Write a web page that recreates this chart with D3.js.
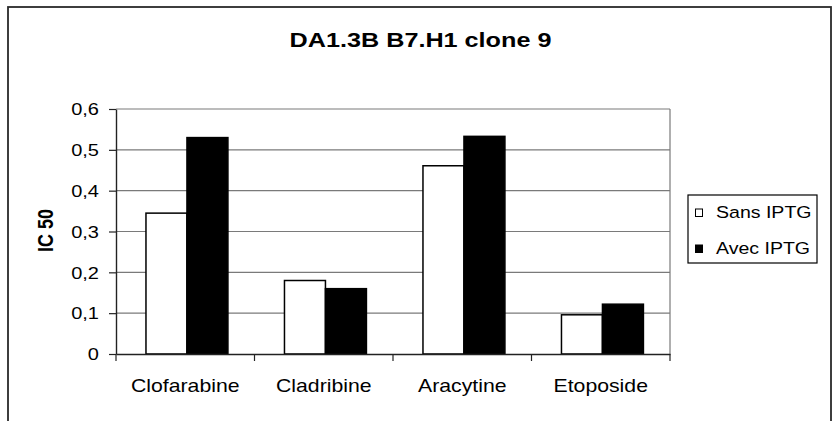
<!DOCTYPE html>
<html>
<head>
<meta charset="utf-8">
<script src="https://cdn.jsdelivr.net/npm/d3@7"></script>
<style>
  html, body { margin: 0; padding: 0; background: #fff; }
  svg { display: block; font-family: "Liberation Sans", Arial, sans-serif; }
</style>
</head>
<body>
<svg id="chart" width="833" height="421"></svg>
<script>
const title = "DA1.3B B7.H1 clone 9";
const yTitle = "IC 50";
const categories = ["Clofarabine", "Cladribine", "Aracytine", "Etoposide"];
const seriesNames = ["Sans IPTG", "Avec IPTG"];
const sansIPTG = [0.345, 0.180, 0.461, 0.096];
const avecIPTG = [0.530, 0.160, 0.533, 0.122];
const yTicks = [0, 0.1, 0.2, 0.3, 0.4, 0.5, 0.6];
const yTickLabels = ["0", "0,1", "0,2", "0,3", "0,4", "0,5", "0,6"];
const seriesFill = ["#ffffff", "#000000"];

const values = [sansIPTG, avecIPTG];
const svg = d3.select("#chart");

// outer chart frame (cropped at the bottom)
svg.append("rect")
  .attr("x", 8).attr("y", 7).attr("width", 823).attr("height", 440)
  .attr("fill", "#fff").attr("stroke", "#2a2a2a").attr("stroke-width", 1.8);

const plot = { left: 116, right: 670, top: 109, bottom: 354 };

const x0 = d3.scaleBand().domain(categories).range([plot.left, plot.right]).padding(0);
const x1 = d3.scaleBand().domain(seriesNames).range([0, x0.bandwidth()])
  .paddingInner(0).paddingOuter(0.69).align(0.53);
const y = d3.scaleLinear().domain([0, 0.6]).range([plot.bottom, plot.top]);

// gridlines
svg.append("g").selectAll("line").data(yTicks.slice(1)).join("line")
  .attr("x1", plot.left).attr("x2", plot.right)
  .attr("y1", d => y(d)).attr("y2", d => y(d))
  .attr("stroke", "#7a7a7a").attr("stroke-width", 1.2);
// plot area right border
svg.append("line")
  .attr("x1", plot.right).attr("x2", plot.right)
  .attr("y1", y(0.6)).attr("y2", y(0))
  .attr("stroke", "#7a7a7a").attr("stroke-width", 1.2);

// bars
const groups = svg.append("g").selectAll("g").data(categories).join("g")
  .attr("transform", d => `translate(${x0(d)},0)`);
groups.selectAll("rect")
  .data((c, i) => seriesNames.map((s, j) => ({ s, v: values[j][i], j })))
  .join("rect")
  .attr("x", d => x1(d.s))
  .attr("width", x1.bandwidth())
  .attr("y", d => y(d.v))
  .attr("height", d => y(0) - y(d.v))
  .attr("fill", d => seriesFill[d.j])
  .attr("stroke", "#000").attr("stroke-width", 1.5);

// y axis
const yAxis = d3.axisLeft(y).tickValues(yTicks)
  .tickFormat((d, i) => yTickLabels[i]).tickSizeInner(7).tickSizeOuter(0);
const gy = svg.append("g").attr("transform", `translate(${plot.left},0)`).call(yAxis);
gy.select(".domain").attr("stroke", "#222").attr("stroke-width", 1.4);
gy.selectAll(".tick line").attr("stroke", "#222").attr("stroke-width", 1.2);
gy.selectAll(".tick text")
  .attr("x", null).attr("dy", "0.36em")
  .attr("transform", "translate(-17,0) scale(1.25,1)")
  .attr("font-size", 16).attr("fill", "#000")
  .style("font-family", '"Liberation Sans", Arial, sans-serif');

// x axis (labels)
const xAxis = d3.axisBottom(x0).tickSize(0);
const gx = svg.append("g").attr("transform", `translate(0,${plot.bottom})`).call(xAxis);
gx.select(".domain").attr("stroke", "#222").attr("stroke-width", 1.4);
gx.selectAll(".tick text")
  .attr("y", null).attr("dy", null)
  .attr("transform", "translate(0,38) scale(1.18,1)")
  .attr("font-size", 18).attr("fill", "#000")
  .style("font-family", '"Liberation Sans", Arial, sans-serif');
// x tick marks between categories
const edges = categories.map(c => x0(c)).concat([x0(categories[categories.length - 1]) + x0.bandwidth()]);
gx.append("g").selectAll("line").data(edges).join("line")
  .attr("x1", d => d).attr("x2", d => d)
  .attr("y1", 0).attr("y2", 7)
  .attr("stroke", "#222").attr("stroke-width", 1.2);

// title
svg.append("text")
  .attr("transform", "translate(420.5,47) scale(1.2,1)")
  .attr("text-anchor", "middle")
  .attr("font-size", 21).attr("font-weight", "bold")
  .text(title);

// y title
svg.append("text")
  .attr("transform", "translate(53,230.5) scale(1.2,1) rotate(-90)")
  .attr("text-anchor", "middle")
  .attr("font-size", 18).attr("font-weight", "bold")
  .text(yTitle);

// legend
const legend = svg.append("g");
legend.append("rect")
  .attr("x", 688).attr("y", 195).attr("width", 129).attr("height", 68)
  .attr("fill", "#fff").attr("stroke", "#000").attr("stroke-width", 1.2);
const legendRows = [218, 254];
const items = legend.selectAll("g.item").data(seriesNames).join("g").attr("class", "item");
items.append("rect")
  .attr("x", 695.5).attr("y", (d, i) => legendRows[i] - 9)
  .attr("width", 7).attr("height", 7.5)
  .attr("fill", (d, i) => seriesFill[i]).attr("stroke", "#000").attr("stroke-width", 1);
items.append("text")
  .attr("transform", (d, i) => `translate(716,${legendRows[i]}) scale(1.15,1)`)
  .attr("font-size", 17)
  .text(d => d);
</script>
</body>
</html>
